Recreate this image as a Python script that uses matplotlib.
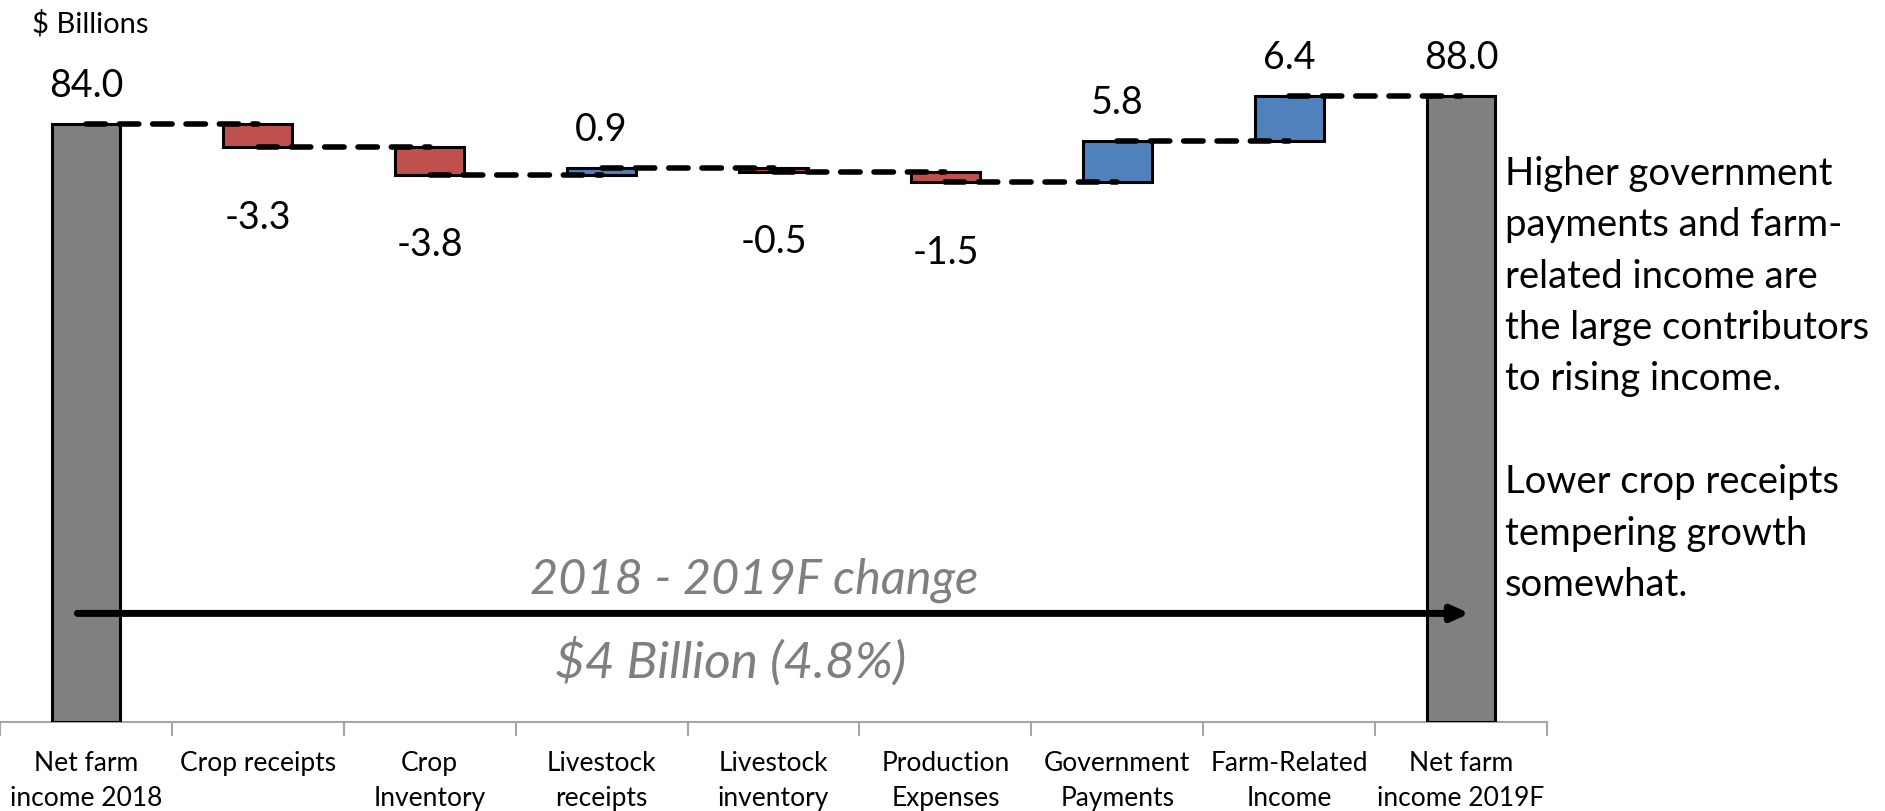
import matplotlib.pyplot as plt
import numpy as np

categories = ["Net farm\nincome 2018", "Crop receipts", "Crop\nInventory",
              "Livestock\nreceipts", "Livestock\ninventory", "Production\nExpenses",
              "Government\nPayments", "Farm-Related\nIncome", "Net farm\nincome 2019F"]
start_value = 84.0
changes = [-3.3, -3.8, 0.9, -0.5, -1.5, 5.8, 6.4]
end_value = 88.0

note = ("Higher government\npayments and farm-\nrelated income are\n"
        "the large contributors\nto rising income.\n\n"
        "Lower crop receipts\ntempering growth\nsomewhat.")

RED = "#C0504D"
BLUE = "#4F81BD"
GREY = "#808080"
FONT = ["Lato", "DejaVu Sans"]

# running totals for the floating bars
levels = np.concatenate([[start_value], start_value + np.cumsum(changes)])
n = len(categories)
x = np.arange(n)

bottoms = [0.0]
heights = [start_value]
colors = [GREY]
for i, c in enumerate(changes):
    bottoms.append(min(levels[i], levels[i + 1]))
    heights.append(abs(c))
    colors.append(BLUE if c > 0 else RED)
bottoms.append(0.0)
heights.append(end_value)
colors.append(GREY)
values = [start_value] + changes + [end_value]

fig = plt.figure(figsize=(18.85, 8.12), dpi=100)
ax = fig.add_axes([0.0, 0.1102, 1547 / 1885, 0.876])

ax.bar(x, heights, bottom=bottoms, width=0.4, color=colors,
       edgecolor="black", linewidth=2.2, zorder=2)

# dashed connectors between bar centres at each running total
totals = list(levels) + [end_value]
for i in range(n - 1):
    ax.plot([x[i], x[i + 1]], [totals[i], totals[i]], color="black", lw=4,
            linestyle=(0, (3.5, 2.5)), dash_capstyle="round", zorder=3)

# value labels
for i, v in enumerate(values):
    top = bottoms[i] + heights[i]
    if v >= 0:
        ax.annotate(f"{v:.1f}", (x[i], top), xytext=(0, 28), textcoords="offset points",
                    ha="center", va="center", fontsize=27, family=FONT)
    else:
        ax.annotate(f"{v:.1f}", (x[i], bottoms[i]), xytext=(0, -50),
                    textcoords="offset points", ha="center", va="center",
                    fontsize=27, family=FONT)

ax.set_xlim(-0.5, n - 0.5)
ax.set_ylim(0, 100)
ax.set_yticks([])
for s in ["left", "right", "top"]:
    ax.spines[s].set_visible(False)
ax.spines["bottom"].set_color("#A6A6A6")
ax.spines["bottom"].set_linewidth(1.5)
ax.spines["bottom"].set_zorder(1)

ax.set_xticks(x)
ax.set_xticklabels(categories, family=FONT, fontsize=19, linespacing=1.5)
ax.set_xticks(np.arange(n + 1) - 0.5, minor=True)
ax.tick_params(axis="x", which="major", length=0, pad=20.5)
ax.tick_params(axis="x", which="minor", length=10, width=1.5, color="#A6A6A6")

# overall change arrow and caption
diff = end_value - start_value
ax.annotate("", xy=(8.05, 15.2), xytext=(-0.05, 15.2),
            arrowprops=dict(arrowstyle="-|>,head_length=1.0,head_width=0.45",
                            color="black", lw=5, shrinkA=0, shrinkB=0), zorder=4)
ax.text(3.89, 20.0, "2018 - 2019F change", ha="center", va="center",
        fontsize=35, style="italic", color="#7F7F7F", family=FONT)
ax.text(3.75, 8.5, f"${diff:.0f} Billion ({diff / start_value * 100:.1f}%)",
        ha="center", va="center", fontsize=37, style="italic", color="#7F7F7F",
        family=FONT)

fig.text(32 / 1885, 1 - 24 / 812, "$ Billions", ha="left", va="center",
         fontsize=21, family=FONT)
fig.text(1505 / 1885, 1 - 156 / 812, note, ha="left", va="top",
         fontsize=27.5, linespacing=1.53, family=FONT)

fig.savefig("out.png", dpi=100)
